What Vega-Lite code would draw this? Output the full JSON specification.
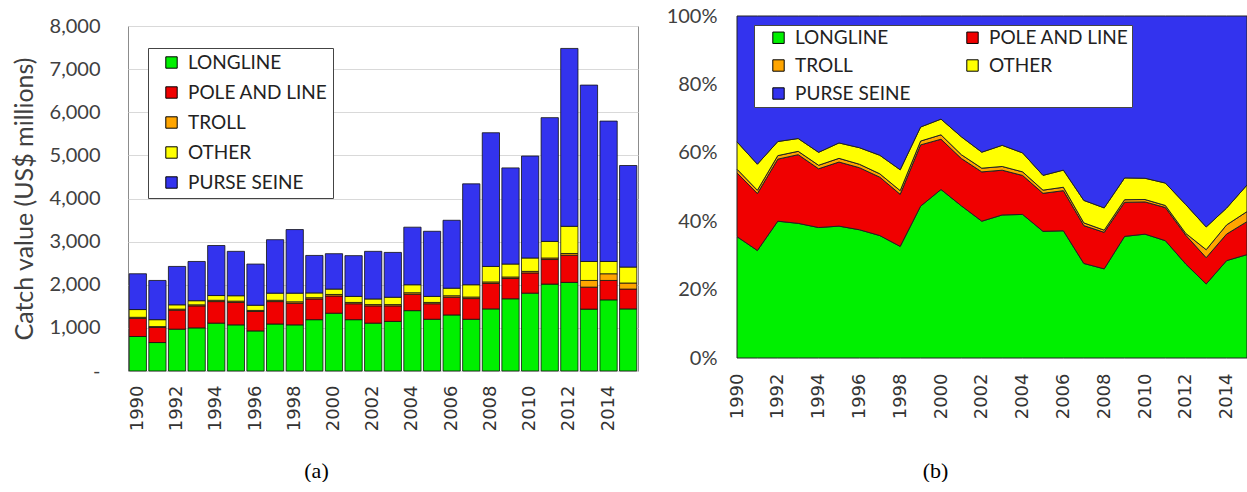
{
  "$schema": "https://vega.github.io/schema/vega-lite/v6.json",
  "background": "white",
  "padding": {"left": 11, "top": 6, "right": 0, "bottom": 0},
  "spacing": 27,
  "config": {"view": {"stroke": null}, "font": "Lato"},
  "datasets": {
    "catch": [
      {"year": 1990, "gear": "LONGLINE", "value": 800}, {"year": 1990, "gear": "POLE AND LINE", "value": 420}, {"year": 1990, "gear": "TROLL", "value": 25}, {"year": 1990, "gear": "OTHER", "value": 180}, {"year": 1990, "gear": "PURSE SEINE", "value": 830},
      {"year": 1991, "gear": "LONGLINE", "value": 660}, {"year": 1991, "gear": "POLE AND LINE", "value": 350}, {"year": 1991, "gear": "TROLL", "value": 20}, {"year": 1991, "gear": "OTHER", "value": 160}, {"year": 1991, "gear": "PURSE SEINE", "value": 910},
      {"year": 1992, "gear": "LONGLINE", "value": 970}, {"year": 1992, "gear": "POLE AND LINE", "value": 440}, {"year": 1992, "gear": "TROLL", "value": 25}, {"year": 1992, "gear": "OTHER", "value": 100}, {"year": 1992, "gear": "PURSE SEINE", "value": 890},
      {"year": 1993, "gear": "LONGLINE", "value": 1000}, {"year": 1993, "gear": "POLE AND LINE", "value": 510}, {"year": 1993, "gear": "TROLL", "value": 25}, {"year": 1993, "gear": "OTHER", "value": 95}, {"year": 1993, "gear": "PURSE SEINE", "value": 910},
      {"year": 1994, "gear": "LONGLINE", "value": 1110}, {"year": 1994, "gear": "POLE AND LINE", "value": 500}, {"year": 1994, "gear": "TROLL", "value": 30}, {"year": 1994, "gear": "OTHER", "value": 110}, {"year": 1994, "gear": "PURSE SEINE", "value": 1160},
      {"year": 1995, "gear": "LONGLINE", "value": 1070}, {"year": 1995, "gear": "POLE AND LINE", "value": 520}, {"year": 1995, "gear": "TROLL", "value": 30}, {"year": 1995, "gear": "OTHER", "value": 125}, {"year": 1995, "gear": "PURSE SEINE", "value": 1030},
      {"year": 1996, "gear": "LONGLINE", "value": 930}, {"year": 1996, "gear": "POLE AND LINE", "value": 450}, {"year": 1996, "gear": "TROLL", "value": 25}, {"year": 1996, "gear": "OTHER", "value": 120}, {"year": 1996, "gear": "PURSE SEINE", "value": 955},
      {"year": 1997, "gear": "LONGLINE", "value": 1090}, {"year": 1997, "gear": "POLE AND LINE", "value": 520}, {"year": 1997, "gear": "TROLL", "value": 30}, {"year": 1997, "gear": "OTHER", "value": 165}, {"year": 1997, "gear": "PURSE SEINE", "value": 1240},
      {"year": 1998, "gear": "LONGLINE", "value": 1070}, {"year": 1998, "gear": "POLE AND LINE", "value": 500}, {"year": 1998, "gear": "TROLL", "value": 35}, {"year": 1998, "gear": "OTHER", "value": 200}, {"year": 1998, "gear": "PURSE SEINE", "value": 1475},
      {"year": 1999, "gear": "LONGLINE", "value": 1190}, {"year": 1999, "gear": "POLE AND LINE", "value": 480}, {"year": 1999, "gear": "TROLL", "value": 30}, {"year": 1999, "gear": "OTHER", "value": 110}, {"year": 1999, "gear": "PURSE SEINE", "value": 870},
      {"year": 2000, "gear": "LONGLINE", "value": 1340}, {"year": 2000, "gear": "POLE AND LINE", "value": 400}, {"year": 2000, "gear": "TROLL", "value": 35}, {"year": 2000, "gear": "OTHER", "value": 125}, {"year": 2000, "gear": "PURSE SEINE", "value": 820},
      {"year": 2001, "gear": "LONGLINE", "value": 1190}, {"year": 2001, "gear": "POLE AND LINE", "value": 370}, {"year": 2001, "gear": "TROLL", "value": 30}, {"year": 2001, "gear": "OTHER", "value": 140}, {"year": 2001, "gear": "PURSE SEINE", "value": 945},
      {"year": 2002, "gear": "LONGLINE", "value": 1110}, {"year": 2002, "gear": "POLE AND LINE", "value": 400}, {"year": 2002, "gear": "TROLL", "value": 30}, {"year": 2002, "gear": "OTHER", "value": 130}, {"year": 2002, "gear": "PURSE SEINE", "value": 1105},
      {"year": 2003, "gear": "LONGLINE", "value": 1150}, {"year": 2003, "gear": "POLE AND LINE", "value": 360}, {"year": 2003, "gear": "TROLL", "value": 30}, {"year": 2003, "gear": "OTHER", "value": 170}, {"year": 2003, "gear": "PURSE SEINE", "value": 1040},
      {"year": 2004, "gear": "LONGLINE", "value": 1400}, {"year": 2004, "gear": "POLE AND LINE", "value": 380}, {"year": 2004, "gear": "TROLL", "value": 35}, {"year": 2004, "gear": "OTHER", "value": 185}, {"year": 2004, "gear": "PURSE SEINE", "value": 1335},
      {"year": 2005, "gear": "LONGLINE", "value": 1200}, {"year": 2005, "gear": "POLE AND LINE", "value": 360}, {"year": 2005, "gear": "TROLL", "value": 30}, {"year": 2005, "gear": "OTHER", "value": 140}, {"year": 2005, "gear": "PURSE SEINE", "value": 1510},
      {"year": 2006, "gear": "LONGLINE", "value": 1300}, {"year": 2006, "gear": "POLE AND LINE", "value": 410}, {"year": 2006, "gear": "TROLL", "value": 35}, {"year": 2006, "gear": "OTHER", "value": 175}, {"year": 2006, "gear": "PURSE SEINE", "value": 1575},
      {"year": 2007, "gear": "LONGLINE", "value": 1200}, {"year": 2007, "gear": "POLE AND LINE", "value": 480}, {"year": 2007, "gear": "TROLL", "value": 35}, {"year": 2007, "gear": "OTHER", "value": 285}, {"year": 2007, "gear": "PURSE SEINE", "value": 2340},
      {"year": 2008, "gear": "LONGLINE", "value": 1440}, {"year": 2008, "gear": "POLE AND LINE", "value": 590}, {"year": 2008, "gear": "TROLL", "value": 35}, {"year": 2008, "gear": "OTHER", "value": 360}, {"year": 2008, "gear": "PURSE SEINE", "value": 3100},
      {"year": 2009, "gear": "LONGLINE", "value": 1675}, {"year": 2009, "gear": "POLE AND LINE", "value": 470}, {"year": 2009, "gear": "TROLL", "value": 35}, {"year": 2009, "gear": "OTHER", "value": 300}, {"year": 2009, "gear": "PURSE SEINE", "value": 2230},
      {"year": 2010, "gear": "LONGLINE", "value": 1805}, {"year": 2010, "gear": "POLE AND LINE", "value": 470}, {"year": 2010, "gear": "TROLL", "value": 35}, {"year": 2010, "gear": "OTHER", "value": 310}, {"year": 2010, "gear": "PURSE SEINE", "value": 2365},
      {"year": 2011, "gear": "LONGLINE", "value": 2015}, {"year": 2011, "gear": "POLE AND LINE", "value": 570}, {"year": 2011, "gear": "TROLL", "value": 35}, {"year": 2011, "gear": "OTHER", "value": 385}, {"year": 2011, "gear": "PURSE SEINE", "value": 2870},
      {"year": 2012, "gear": "LONGLINE", "value": 2055}, {"year": 2012, "gear": "POLE AND LINE", "value": 630}, {"year": 2012, "gear": "TROLL", "value": 40}, {"year": 2012, "gear": "OTHER", "value": 630}, {"year": 2012, "gear": "PURSE SEINE", "value": 4125},
      {"year": 2013, "gear": "LONGLINE", "value": 1435}, {"year": 2013, "gear": "POLE AND LINE", "value": 510}, {"year": 2013, "gear": "TROLL", "value": 155}, {"year": 2013, "gear": "OTHER", "value": 440}, {"year": 2013, "gear": "PURSE SEINE", "value": 4090},
      {"year": 2014, "gear": "LONGLINE", "value": 1650}, {"year": 2014, "gear": "POLE AND LINE", "value": 450}, {"year": 2014, "gear": "TROLL", "value": 155}, {"year": 2014, "gear": "OTHER", "value": 285}, {"year": 2014, "gear": "PURSE SEINE", "value": 3255},
      {"year": 2015, "gear": "LONGLINE", "value": 1440}, {"year": 2015, "gear": "POLE AND LINE", "value": 460}, {"year": 2015, "gear": "TROLL", "value": 140}, {"year": 2015, "gear": "OTHER", "value": 370}, {"year": 2015, "gear": "PURSE SEINE", "value": 2355}
    ]
  },
  "resolve": {"legend": {"color": "independent"}},
  "hconcat": [
    {
      "width": 510,
      "height": 345,
      "view": {"stroke": "#8c8c8c", "strokeWidth": 1},
      "data": {"name": "catch"},
      "transform": [
        {"calculate": "indexof(['LONGLINE','POLE AND LINE','TROLL','OTHER','PURSE SEINE'], datum.gear)", "as": "rank"}
      ],
      "mark": {"type": "bar", "stroke": "#111111", "strokeWidth": 0.8},
      "encoding": {
        "x": {
          "field": "year", "type": "ordinal",
          "scale": {"paddingInner": 0.12, "paddingOuter": 0.06},
          "axis": {
            "values": [1990, 1992, 1994, 1996, 1998, 2000, 2002, 2004, 2006, 2008, 2010, 2012, 2014],
            "labelAngle": -90, "labelPadding": 14, "ticks": false, "domain": false,
            "labelFont": "DejaVu Sans", "labelFontSize": 18, "labelColor": "#333333",
            "title": "(a)", "titleFont": "Liberation Serif", "titleFontSize": 22, "titleFontWeight": "normal",
            "titleColor": "#000000", "titleX": 188, "titleY": 99, "titleBaseline": "middle", "titleAlign": "center"
          }
        },
        "y": {
          "field": "value", "type": "quantitative", "stack": "zero",
          "scale": {"domain": [0, 8000], "nice": false},
          "axis": {
            "values": [0, 1000, 2000, 3000, 4000, 5000, 6000, 7000, 8000],
            "labelExpr": "datum.value === 0 ? '-\u00a0\u00a0' : format(datum.value, ',')",
            "grid": true, "gridColor": "#d9d9d9", "domain": false, "ticks": false,
            "labelPadding": 28, "labelFont": "Lato", "labelFontSize": 20, "labelColor": "#404040",
            "title": "Catch value (US$ millions)", "titleFont": "Lato", "titleFontSize": 25,
            "titleFontWeight": "normal", "titleColor": "#404040", "titlePadding": 12
          }
        },
        "order": {"field": "rank", "type": "quantitative"},
        "color": {
          "field": "gear", "type": "nominal",
          "scale": {
            "domain": ["LONGLINE", "POLE AND LINE", "TROLL", "OTHER", "PURSE SEINE"],
            "range": ["#00f000", "#f00000", "#ffa500", "#ffff00", "#3333ee"]
          },
          "legend": {
            "orient": "none", "legendX": 20, "legendY": 22, "title": null,
            "fillColor": "white", "strokeColor": "#444444", "padding": 5, "symbolOffset": 9,
            "symbolType": "square", "symbolSize": 130, "symbolStrokeColor": "#000000", "symbolStrokeWidth": 1,
            "labelFont": "Lato", "labelFontSize": 19, "labelColor": "#222222", "labelOffset": 7, "rowPadding": 10
          }
        }
      }
    },
    {
      "width": 510,
      "height": 332,
      "data": {"name": "catch"},
      "transform": [
        {"calculate": "indexof(['LONGLINE','POLE AND LINE','TROLL','OTHER','PURSE SEINE'], datum.gear)", "as": "rank"}
      ],
      "mark": {"type": "area", "stroke": "#222222", "strokeWidth": 1},
      "encoding": {
        "x": {
          "field": "year", "type": "quantitative",
          "scale": {"domain": [1990, 2015], "nice": false, "zero": false},
          "axis": {
            "values": [1990, 1992, 1994, 1996, 1998, 2000, 2002, 2004, 2006, 2008, 2010, 2012, 2014],
            "format": "d", "labelAngle": -90, "labelPadding": 15, "ticks": false, "domain": false, "grid": false,
            "labelFont": "DejaVu Sans", "labelFontSize": 18, "labelColor": "#333333",
            "title": "(b)", "titleFont": "Liberation Serif", "titleFontSize": 22, "titleFontWeight": "normal",
            "titleColor": "#000000", "titleX": 198, "titleY": 112, "titleBaseline": "middle", "titleAlign": "center"
          }
        },
        "y": {
          "field": "value", "type": "quantitative", "stack": "normalize",
          "scale": {"domain": [0, 1], "nice": false, "range": [332, -10]},
          "axis": {
            "values": [0, 0.2, 0.4, 0.6, 0.8, 1], "format": ".0%",
            "grid": false, "domain": false, "ticks": false, "labelPadding": 20,
            "labelFont": "Lato", "labelFontSize": 20, "labelColor": "#404040", "title": null
          }
        },
        "order": {"field": "rank", "type": "quantitative"},
        "color": {
          "field": "gear", "type": "nominal",
          "scale": {
            "domain": ["LONGLINE", "POLE AND LINE", "TROLL", "OTHER", "PURSE SEINE"],
            "range": ["#00f000", "#f00000", "#ffa500", "#ffff00", "#3333ee"]
          },
          "legend": {
            "orient": "none", "legendX": 17, "legendY": -1, "title": null, "columns": 2, "direction": "horizontal", "columnPadding": 40,
            "fillColor": "white", "strokeColor": "#444444", "padding": 3, "symbolOffset": 12,
            "symbolType": "square", "symbolSize": 130, "symbolStrokeColor": "#000000", "symbolStrokeWidth": 1,
            "labelFont": "Lato", "labelFontSize": 19, "labelColor": "#222222", "labelOffset": 7, "rowPadding": 8
          }
        }
      }
    }
  ]
}
